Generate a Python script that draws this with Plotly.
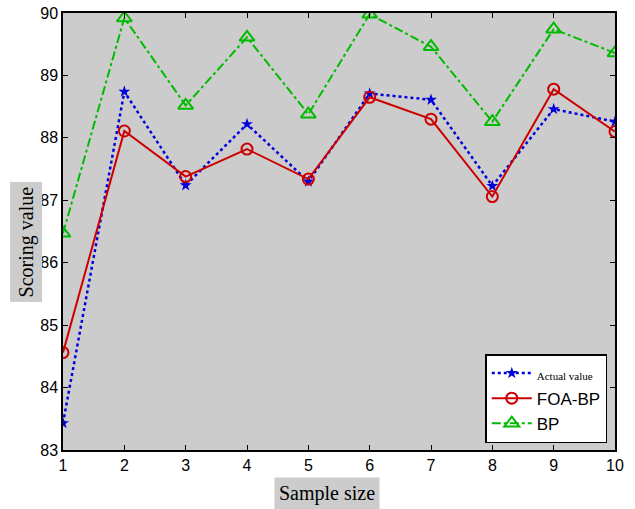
import plotly.graph_objects as go

sample_size = [1, 2, 3, 4, 5, 6, 7, 8, 9, 10]
actual_value = [83.43, 88.74, 87.24, 88.22, 87.30, 88.71, 88.61, 87.23, 88.46, 88.26]
foa_bp = [84.56, 88.11, 87.38, 87.82, 87.34, 88.65, 88.30, 87.06, 88.78, 88.10]
bp = [86.47, 89.92, 88.52, 89.61, 88.38, 89.98, 89.46, 88.26, 89.74, 89.36]
y_ticks = [83, 84, 85, 86, 87, 88, 89, 90]

fig = go.Figure()
fig.add_trace(go.Scatter(
    x=sample_size, y=actual_value, mode="lines+markers",
    name='<span style="font-family:Liberation Serif;font-size:11px">Actual value</span>',
    line=dict(color="#0000dd", width=2.5, dash="dot"),
    marker=dict(symbol="star", size=9, color="#0000dd")))
fig.add_trace(go.Scatter(
    x=sample_size, y=foa_bp, mode="lines+markers", name="FOA-BP",
    line=dict(color="#cc0000", width=2),
    marker=dict(symbol="circle-open", size=11, color="#cc0000", line=dict(width=2))))
fig.add_trace(go.Scatter(
    x=sample_size, y=bp, mode="lines+markers", name="BP",
    line=dict(color="#00bb00", width=2, dash="dashdot"),
    marker=dict(symbol="triangle-up-open", size=13, color="#00bb00", line=dict(width=2))))

fig.update_layout(
    width=635, height=509,
    margin=dict(l=63, r=20, t=13, b=59, autoexpand=False),
    paper_bgcolor="white", plot_bgcolor="#cccccc",
    font=dict(family="Liberation Sans, Arial", size=16, color="black"),
    showlegend=True,
    legend=dict(x=0.986, y=0.016, xanchor="right", yanchor="bottom",
                bgcolor="white", bordercolor="black", borderwidth=1.5,
                tracegroupgap=0, itemwidth=40,
                font=dict(family="Liberation Sans, Arial", size=17)),
)
fig.update_xaxes(range=[1, 10], tickvals=sample_size, showgrid=False, zeroline=False,
                 ticks="inside", ticklen=5, tickcolor="black", showline=True,
                 linecolor="black", linewidth=1.5, mirror="ticks", automargin=False)
fig.update_yaxes(range=[83, 90], tickvals=y_ticks, showgrid=False, zeroline=False,
                 ticks="inside", ticklen=5, tickcolor="black", showline=True,
                 linecolor="black", linewidth=1.5, mirror="ticks", automargin=False)

fig.add_annotation(text="Scoring value", xref="paper", yref="paper",
                   x=-0.067, y=0.475, xanchor="center", yanchor="middle",
                   textangle=-90, showarrow=False, bgcolor="#cccccc",
                   font=dict(family="Liberation Serif, Times New Roman", size=20, color="black"),
                   borderpad=4)
fig.add_annotation(text="Sample size", xref="paper", yref="paper",
                   x=0.478, y=-0.1, xanchor="center", yanchor="middle",
                   showarrow=False, bgcolor="#cccccc",
                   font=dict(family="Liberation Serif, Times New Roman", size=20, color="black"),
                   borderpad=4)

fig.write_html("out.html", config={"displayModeBar": False},
               post_script="document.body.style.margin='0';document.body.style.padding='0';")
